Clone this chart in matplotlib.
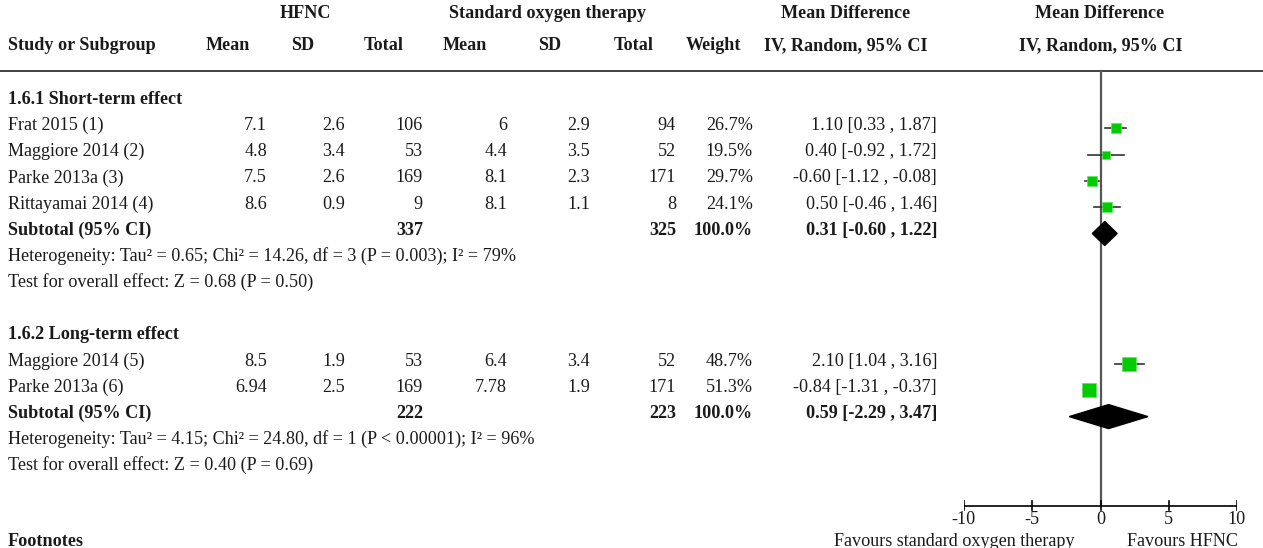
import matplotlib.pyplot as plt

plt.rcParams["font.family"] = ["Liberation Serif", "DejaVu Serif"]

# study level data
studies = ["Frat 2015 (1)", "Maggiore 2014 (2)", "Parke 2013a (3)", "Rittayamai 2014 (4)",
           "Maggiore 2014 (5)", "Parke 2013a (6)"]
hfnc_mean = [7.1, 4.8, 7.5, 8.6, 8.5, 6.94]
hfnc_sd = [2.6, 3.4, 2.6, 0.9, 1.9, 2.5]
hfnc_n = [106, 53, 169, 9, 53, 169]
sot_mean = [6, 4.4, 8.1, 8.1, 6.4, 7.78]
sot_sd = [2.9, 3.5, 2.3, 1.1, 3.4, 1.9]
sot_n = [94, 52, 171, 8, 52, 171]
weights = [26.7, 19.5, 29.7, 24.1, 48.7, 51.3]
md = [1.10, 0.40, -0.60, 0.50, 2.10, -0.84]
md_lo = [0.33, -0.92, -1.12, -0.46, 1.04, -1.31]
md_hi = [1.87, 1.72, -0.08, 1.46, 3.16, -0.37]

# subgroups
group_names = ["1.6.1 Short-term effect", "1.6.2 Long-term effect"]
group_studies = [[0, 1, 2, 3], [4, 5]]
sub_hfnc_n = [337, 222]
sub_sot_n = [325, 223]
sub_md = [0.31, 0.59]
sub_lo = [-0.60, -2.29]
sub_hi = [1.22, 3.47]
heterogeneity = [
    "Heterogeneity: Tau² = 0.65; Chi² = 14.26, df = 3 (P = 0.003); I² = 79%",
    "Heterogeneity: Tau² = 4.15; Chi² = 24.80, df = 1 (P < 0.00001); I² = 96%",
]
overall = ["Test for overall effect: Z = 0.68 (P = 0.50)",
           "Test for overall effect: Z = 0.40 (P = 0.69)"]

xticks = [-10, -5, 0, 5, 10]

W, H = 1263, 548
fig = plt.figure(figsize=(W / 100, H / 100), dpi=100)
ax = fig.add_axes([0, 0, 1, 1])
ax.set_xlim(0, W)
ax.set_ylim(H, 0)
ax.axis("off")

x0, x1 = 964, 1237
fax = fig.add_axes([x0 / W, 0, (x1 - x0) / W, 1])
fax.set_xlim(-10, 10)
fax.set_ylim(H, 0)
fax.axis("off")
fax.patch.set_alpha(0)

fs = 13.1
tc = "#1a1a1a"


def txt(x, y, s, ha="left", bold=False):
    ax.text(x, y, s, ha=ha, va="center", fontsize=fs, color=tc,
            fontweight="bold" if bold else "normal")


# header
txt(305, 14, "HFNC", "center", True)
txt(548, 14, "Standard oxygen therapy", "center", True)
txt(846, 14, "Mean Difference", "center", True)
txt(1100, 14, "Mean Difference", "center", True)
txt(8, 46, "Study or Subgroup", bold=True)
for xc, lab in [(228, "Mean"), (303, "SD"), (384, "Total"), (465, "Mean"), (550, "SD"),
                (634, "Total"), (714, "Weight"), (846, "IV, Random, 95% CI"),
                (1101, "IV, Random, 95% CI")]:
    txt(xc, 46, lab, "center", True)
ax.plot([0, W], [71, 71], color="#333333", lw=1.3)

# column right edges
cols = [267, 345, 423, 507, 590, 676, 753, 937]
row_h = 26.3
y = 99
for g in range(2):
    txt(8, y, group_names[g], bold=True)
    y += row_h
    for i in group_studies[g]:
        txt(8, y, studies[i])
        vals = [f"{hfnc_mean[i]:g}", f"{hfnc_sd[i]:g}", f"{hfnc_n[i]}", f"{sot_mean[i]:g}",
                f"{sot_sd[i]:g}", f"{sot_n[i]}", f"{weights[i]:.1f}%",
                f"{md[i]:.2f} [{md_lo[i]:.2f} , {md_hi[i]:.2f}]"]
        for xr, v in zip(cols, vals):
            txt(xr, y, v, "right")
        fax.plot([md_lo[i], md_hi[i]], [y + 3, y + 3], color="#333333", lw=1.2, zorder=2)
        side = 1.95 * weights[i] ** 0.5
        fax.scatter([md[i]], [y + 3], marker="s", s=(side * 0.72) ** 2, color="#00cc00",
                    edgecolors="#66e066", linewidths=0.5, zorder=3)
        y += row_h
    txt(8, y, "Subtotal (95% CI)", bold=True)
    txt(cols[2], y, f"{sub_hfnc_n[g]}", "right", True)
    txt(cols[5], y, f"{sub_sot_n[g]}", "right", True)
    txt(cols[6], y, "100.0%", "right", True)
    txt(cols[7], y, f"{sub_md[g]:.2f} [{sub_lo[g]:.2f} , {sub_hi[g]:.2f}]", "right", True)
    yc = y + 3
    fax.fill([sub_lo[g], sub_md[g], sub_hi[g], sub_md[g]], [yc, yc - 12, yc, yc + 12],
             color="black", zorder=3)
    y += row_h
    txt(8, y - 1, heterogeneity[g])
    y += row_h
    txt(8, y - 1, overall[g])
    y += 2 * row_h - 1

txt(8, 542, "Footnotes", bold=True)

# forest axis
fax.plot([0, 0], [71, 506], color="#555555", lw=1.6, zorder=1)
fax.plot([-10, 10], [506, 506], color="black", lw=1.2)
for t in xticks:
    fax.plot([t, t], [501, 510], color="black", lw=1.2)
    fax.text(t, 520, f"{t}", ha="center", va="center", fontsize=fs, color=tc)
ax.text(1075, 541, "Favours standard oxygen therapy", ha="right", va="center",
        fontsize=fs, color=tc)
ax.text(1238, 541, "Favours HFNC", ha="right", va="center", fontsize=fs, color=tc)

fig.savefig("out.png", dpi=100)
